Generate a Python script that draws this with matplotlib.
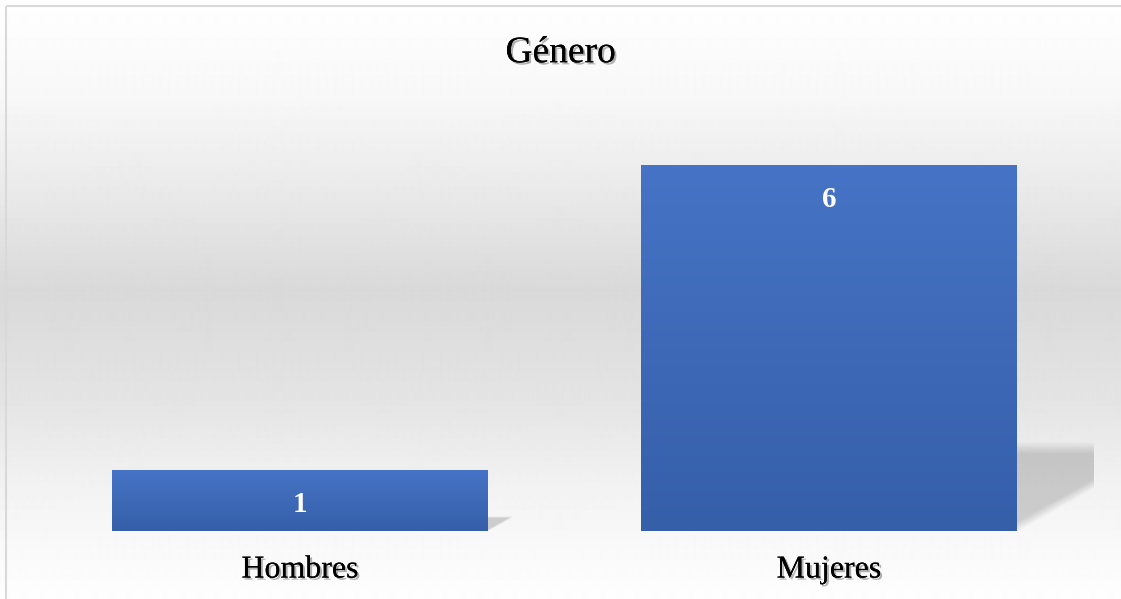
import matplotlib.pyplot as plt
import matplotlib.patheffects as pe
import numpy as np
from matplotlib.colors import LinearSegmentedColormap
from matplotlib.patches import Rectangle

categories = ['Hombres', 'Mujeres']
values = [1, 6]
title = 'Género'

W, H = 1121, 599
BAR_TOP = '#4673c5'
BAR_BOTTOM = '#355fa9'

plt.rcParams['font.family'] = ['Liberation Serif', 'DejaVu Serif']

fig = plt.figure(figsize=(W / 100, H / 100), dpi=100)

# background: soft vertical grey gradient in pixel space
bg = fig.add_axes([0, 0, 1, 1], zorder=0)
bg.set_xlim(0, W)
bg.set_ylim(H, 0)
bg.axis('off')
stops_y = [0, 100, 200, 290, 400, 500, 599]
stops_v = [255, 247, 232, 217, 228, 244, 254]
grad = np.interp(np.arange(H), stops_y, stops_v) / 255.0
bg.imshow(np.tile(grad[:, None], (1, 2)), cmap='gray', vmin=0, vmax=1,
          extent=(0, W, H, 0), aspect='auto', interpolation='bilinear')
bg.add_patch(Rectangle((6, 6), W, H, fill=False, edgecolor='#d9d9d9',
                       linewidth=1.5))

shadow_fx = [pe.withSimplePatchShadow(offset=(1.5, -1.5),
                                      shadow_rgbFace='#555555', alpha=0.45),
             pe.Normal()]

# plot area
left, right = 35.5 / W, 1093.5 / W
bottom, top = (H - 531) / H, (H - 104) / H
ax = fig.add_axes([left, bottom, right - left, top - bottom], zorder=1)
ax.patch.set_alpha(0)
ax.axis('off')

x = np.arange(len(categories))
bars = ax.bar(x, values, width=0.71, color=BAR_TOP, zorder=3)

cmap = LinearSegmentedColormap.from_list('bar', [BAR_BOTTOM, BAR_TOP])


def soft_shadow(xr, bh):
    # perspective drop shadow, soft on its top and diagonal edges
    hs = bh * 0.245
    dx = bh * 0.045
    u, v = np.meshgrid(np.linspace(0, 1, 120), np.linspace(0, 1, 120))
    a_top = np.clip((1 - v) / 0.14, 0, 1)
    a_diag = np.clip((v - 0.9 * (u - 0.02)) / 0.12, 0, 1)
    rgba = np.zeros(u.shape + (4,))
    rgba[..., 3] = 0.17 * a_top * a_diag
    ax.imshow(rgba, origin='lower', extent=(xr, xr + dx, 0, hs),
              aspect='auto', zorder=2, interpolation='bilinear')


for bar, v in zip(bars, values):
    bx, bw, bh = bar.get_x(), bar.get_width(), bar.get_height()
    im = ax.imshow(np.linspace(0, 1, 64)[:, None], cmap=cmap, origin='lower',
                   extent=(bx, bx + bw, 0, bh), aspect='auto', zorder=3.5,
                   interpolation='bilinear')
    im.set_clip_path(bar)
    soft_shadow(bx + bw, bh)

    ax.text(bx + bw / 2, bh - 0.56, str(v), ha='center', va='center',
            color='white', fontsize=21, fontweight='bold', zorder=5)

ax.set_xlim(-0.5, 1.5)
ax.set_ylim(0, 7)

for xi, name in zip(x, categories):
    ax.text(xi, -0.64, name, ha='center', va='center', fontsize=23,
            color='black', clip_on=False, path_effects=shadow_fx)

fig.text(0.5, 1 - 53 / H, title, ha='center', va='center', fontsize=27,
         color='black', path_effects=shadow_fx)

fig.savefig('out.png', dpi=100)
